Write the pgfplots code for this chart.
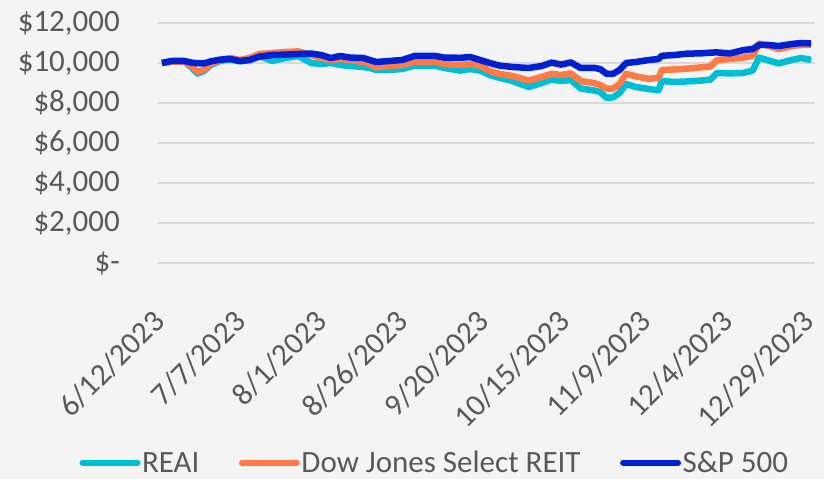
\documentclass[border=0pt]{standalone}
\usepackage{pgfplots}
\pgfplotsset{compat=1.18}
\usepackage{pgfplotstable}
\usepackage{fontspec}
\setmainfont{Carlito}
\definecolor{bgc}{HTML}{F4F4F4}
\definecolor{gridc}{HTML}{D9D9D9}
\definecolor{txtc}{HTML}{595959}
\definecolor{reai}{RGB}{0,190,212}
\definecolor{djc}{RGB}{255,122,69}
\definecolor{spc}{RGB}{0,32,210}
\pgfplotstableread{
d spx dj reai
0 10000 10000 10000
3 10100 10080 10080
7 10100 10050 10060
9 10020 9850 9800
11 9990 9560 9470
13 9980 9650 9600
15 10080 9950 9900
18 10170 10150 10100
21 10200 10250 10180
24 10100 10150 10080
27 10150 10250 10150
30 10320 10450 10350
34 10400 10500 10100
38 10420 10550 10250
42 10450 10580 10350
46 10470 10400 10000
49 10400 10250 9950
52 10250 10150 10000
55 10350 10200 9900
58 10270 10150 9850
62 10250 10050 9800
64 10150 9950 9750
66 10050 9780 9650
70 10100 9850 9650
74 10150 9900 9700
78 10360 10070 9870
84 10360 10070 9870
87 10270 9950 9750
92 10260 9900 9620
95 10300 9950 9700
98 10150 9870 9620
101 10000 9600 9400
104 9870 9460 9260
108 9800 9350 9100
113 9750 9120 8800
117 9850 9300 9000
120 10020 9460 9170
123 9920 9400 9100
126 10030 9480 9150
129 9750 9100 8720
133 9760 9000 8630
135 9700 8900 8550
137 9460 8720 8260
139 9460 8720 8280
141 9650 8950 8500
143 10000 9460 8950
146 10050 9330 8800
150 10150 9210 8700
153 10200 9250 8630
154 10360 9650 9100
158 10400 9680 9050
162 10470 9720 9080
166 10480 9780 9120
169 10520 9820 9170
171 10530 10150 9500
175 10480 10200 9480
179 10640 10270 9500
182 10700 10350 9620
184 10900 10970 10270
187 10900 10850 10120
190 10850 10690 9980
194 10950 10850 10150
197 11000 10900 10250
200 10980 10920 10150
}\data
\begin{document}
\begin{tikzpicture}[font=\fontsize{31bp}{37bp}\selectfont]
\fill[bgc] (0,0) rectangle (824bp,479bp);
\useasboundingbox (0,0) rectangle (824bp,479bp);
\begin{axis}[
  at={(158bp,216bp)}, anchor=south west,
  scale only axis, width=657bp, height=240bp,
  xmin=-1.2, xmax=201.2, ymin=0, ymax=12000,
  scaled y ticks=false,
  axis line style={draw=none},
  major tick length=0pt,
  ymajorgrids, grid style={gridc, line width=1.5bp},
  xtick={0,25,...,200},
  xticklabels={6/12/2023,7/7/2023,8/1/2023,8/26/2023,9/20/2023,10/15/2023,11/9/2023,12/4/2023,12/29/2023},
  ytick={0,2000,...,12000},
  yticklabels={{\$-\hspace{14bp}},{\$2,000},{\$4,000},{\$6,000},{\$8,000},{\$10,000},{\$12,000}},
  ticklabel style={text=txtc},
  xticklabel style={xshift=-11bp, yshift=-45bp, rotate=45, anchor=north east, inner sep=0pt},
  yticklabel style={anchor=east, inner sep=0pt, xshift=-38bp},
  legend columns=3,
  legend style={at={(0.421,-0.833)}, anchor=center, draw=none, fill=none,
    text=txtc, nodes={inner sep=1.5bp},
    /tikz/every even column/.append style={column sep=38bp}},
  legend cell align=left,
  legend image code/.code={\draw[#1, line width=6bp, line cap=round] (0bp,0bp) -- (55bp,0bp);},
  every axis plot/.append style={line width=6.5bp, line join=round, mark=none},
]
\addplot[reai] table[x=d, y=reai] {\data};
\addlegendentry{REAI}
\addplot[djc] table[x=d, y=dj] {\data};
\addlegendentry{Dow Jones Select REIT}
\addplot[spc] table[x=d, y=spx] {\data};
\addlegendentry{S\&P 500}
\end{axis}
\end{tikzpicture}
\end{document}
